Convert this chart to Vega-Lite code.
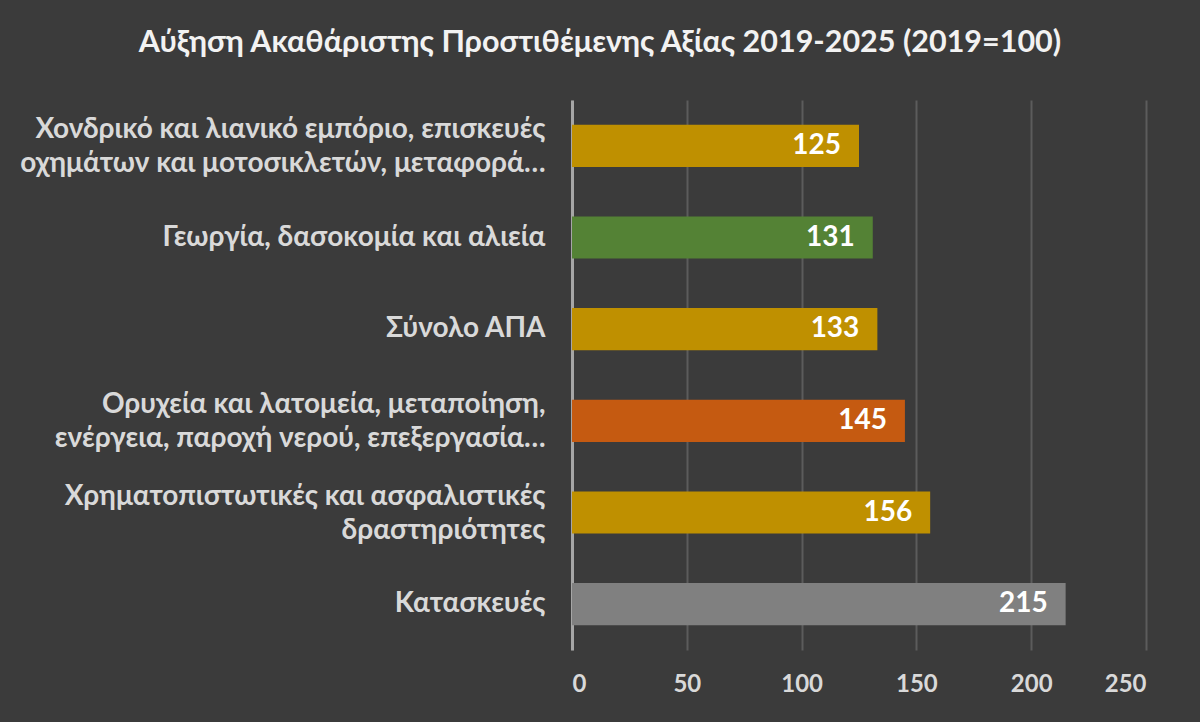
{
  "$schema": "https://vega.github.io/schema/vega-lite/v6.json",
  "autosize": {"type": "none"},
  "width": 574,
  "height": 550,
  "padding": {"left": 572, "top": 100, "right": 54, "bottom": 72},
  "background": "#3b3b3b",
  "title": {
    "text": "Αύξηση Ακαθάριστης Προστιθέμενης Αξίας 2019-2025 (2019=100)",
    "font": "Lato",
    "fontSize": 30.5,
    "fontWeight": "bold",
    "color": "#f2f2f2",
    "anchor": "middle",
    "baseline": "middle",
    "dx": -259,
    "offset": 27
  },
  "data": {
    "values": [
      {"sector": "Χονδρικό και λιανικό εμπόριο, επισκευές|οχημάτων και μοτοσικλετών, μεταφορά…", "value": 125, "group": "a"},
      {"sector": "Γεωργία, δασοκομία και αλιεία", "value": 131, "group": "b"},
      {"sector": "Σύνολο ΑΠΑ", "value": 133, "group": "a"},
      {"sector": "Ορυχεία και λατομεία, μεταποίηση,|ενέργεια, παροχή νερού, επεξεργασία…", "value": 145, "group": "c"},
      {"sector": "Χρηματοπιστωτικές και ασφαλιστικές|δραστηριότητες", "value": 156, "group": "a"},
      {"sector": "Κατασκευές", "value": 215, "group": "d"}
    ]
  },
  "encoding": {
    "y": {
      "field": "sector",
      "type": "nominal",
      "sort": null,
      "title": null,
      "scale": {"paddingInner": 0.54, "paddingOuter": 0.27},
      "axis": {
        "labelExpr": "split(datum.label, '|')",
        "labelFont": "Lato",
        "labelFontSize": 28,
        "labelFontWeight": "bold",
        "labelColor": "#d9d9d9",
        "labelLineHeight": 34,
        "labelPadding": 27,
        "labelLimit": 700,
        "labelOffset": {
          "condition": {"test": "indexof(datum.value, '|') >= 0", "value": -16},
          "value": 0
        },
        "ticks": false,
        "domainColor": "#a6a6a6",
        "domainWidth": 3,
        "grid": false
      }
    },
    "x": {
      "field": "value",
      "type": "quantitative",
      "title": null,
      "scale": {"domain": [0, 250]},
      "axis": {
        "values": [0, 50, 100, 150, 200, 250],
        "labelFont": "Lato",
        "labelFontSize": 24,
        "labelFontWeight": "bold",
        "labelColor": "#d9d9d9",
        "labelPadding": 22,
        "ticks": false,
        "domain": false,
        "grid": true,
        "gridColor": "#5c5c5c",
        "gridWidth": 2
      }
    }
  },
  "layer": [
    {
      "mark": {"type": "bar"},
      "encoding": {
        "color": {
          "field": "group",
          "type": "nominal",
          "legend": null,
          "scale": {"domain": ["a", "b", "c", "d"], "range": ["#bf9000", "#548235", "#c55a11", "#808080"]}
        }
      }
    },
    {
      "mark": {"type": "text", "align": "right", "baseline": "middle", "dx": -18, "font": "Lato", "fontSize": 28, "fontWeight": "bold", "color": "#ffffff"},
      "encoding": {"text": {"field": "value", "type": "quantitative"}}
    }
  ],
  "config": {"view": {"stroke": null}}
}
